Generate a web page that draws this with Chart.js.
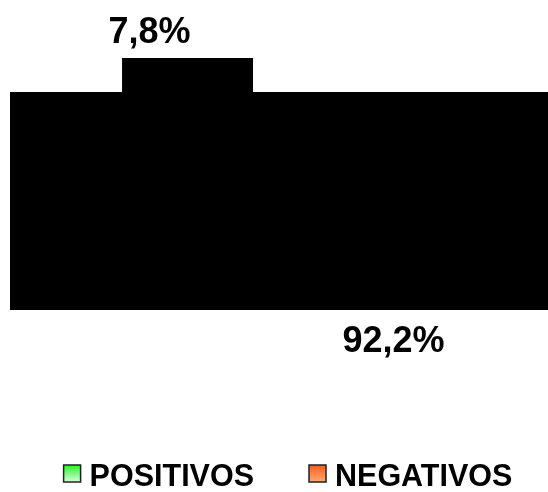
<!DOCTYPE html>
<html>
<head>
<meta charset="utf-8">
<script src="https://cdn.jsdelivr.net/npm/chart.js@4"></script>
<style>
  html, body { margin: 0; padding: 0; background: #fff; overflow: hidden; }
</style>
</head>
<body>
<canvas id="sharechart" width="548" height="492"></canvas>
<script>
const categories = ['POSITIVOS', 'NEGATIVOS'];
const shares = [7.8, 92.2];

// legend swatch colours (top / bottom of the gradient)
const swatchTop = ['#2cf02c', '#ff5c1c'];
const swatchBottom = ['#d8ffd8', '#ffa872'];

const labelFont = 'bold 36px "Liberation Sans", Arial, sans-serif';
const legendFont = 'bold 30.5px "Liberation Sans", Arial, sans-serif';

const formatShare = v => v.toFixed(1).replace('.', ',') + '%';

// value labels, placed like the old pie labels
const shareLabels = {
    id: 'shareLabels',
    afterDatasetsDraw(chart) {
        const ctx = chart.ctx;
        const area = chart.chartArea;
        ctx.save();
        ctx.font = labelFont;
        ctx.fillStyle = '#000';
        ctx.textAlign = 'center';
        ctx.textBaseline = 'alphabetic';

        const small = chart.getDatasetMeta(0).data[0];
        const top = Math.min(small.y, small.base);
        ctx.fillText(formatShare(shares[0]), small.x - small.width * 0.29, top - 15);

        const big = chart.getDatasetMeta(1).data[0];
        ctx.fillText(formatShare(shares[1]), big.x + 23, area.bottom + 42);
        ctx.restore();
    }
};

// legend with gradient boxes
const swatchLegend = {
    id: 'swatchLegend',
    afterDraw(chart) {
        const ctx = chart.ctx;
        const box = 17, gap = 9, spacing = 55;
        ctx.save();
        ctx.font = legendFont;
        const widths = categories.map(t => ctx.measureText(t).width);
        const total = widths.reduce((s, w) => s + box + gap + w, 0) + spacing * (categories.length - 1);
        let x = (chart.width - total) / 2 + 14;
        const baseline = chart.height - 6;
        const boxTop = baseline - 21;

        categories.forEach((label, i) => {
            const grad = ctx.createLinearGradient(0, boxTop, 0, boxTop + box);
            grad.addColorStop(0, swatchTop[i]);
            grad.addColorStop(1, swatchBottom[i]);
            ctx.fillStyle = grad;
            ctx.fillRect(x, boxTop, box, box);
            ctx.lineWidth = 1.5;
            ctx.strokeStyle = '#222';
            ctx.strokeRect(x, boxTop, box, box);

            ctx.fillStyle = '#000';
            ctx.textAlign = 'left';
            ctx.textBaseline = 'alphabetic';
            ctx.fillText(label, x + box + gap, baseline);
            x += box + gap + widths[i] + spacing;
        });
        ctx.restore();
    }
};

const ctx = document.getElementById('sharechart').getContext('2d');

const shareChart = new Chart(ctx, {
    type: 'bar',
    data: {
        labels: [''],
        datasets: [
            {
                label: categories[0],
                data: [shares[0]],
                backgroundColor: '#000',
                borderWidth: 0,
                categoryPercentage: 0.68,
                barPercentage: 0.716,
                clip: 0
            },
            {
                label: categories[1],
                data: [shares[1]],
                backgroundColor: '#000',
                borderWidth: 0,
                categoryPercentage: 0.68,
                barPercentage: 5,
                clip: 0
            }
        ]
    },
    options: {
        responsive: false,
        animation: false,
        layout: {
            padding: { left: 10, right: 0, top: 58, bottom: 182 }
        },
        scales: {
            x: { display: false, stacked: false },
            y: { display: false, stacked: true, reverse: true, min: 0, max: 58 }
        },
        plugins: {
            legend: { display: false },
            tooltip: { enabled: false }
        }
    },
    plugins: [shareLabels, swatchLegend]
});
</script>
</body>
</html>
